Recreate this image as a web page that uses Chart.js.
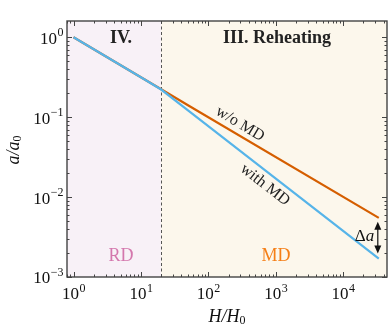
<!DOCTYPE html>
<html>
<head>
<meta charset="utf-8">
<script src="https://cdn.jsdelivr.net/npm/chart.js@4.4.0/dist/chart.umd.min.js"></script>
<style>
  html, body { margin: 0; padding: 0; background: #fff; }
  #wrap { width: 389px; height: 332px; }
</style>
</head>
<body>
<div id="wrap"><canvas id="scaleChart"></canvas></div>
<script>
// values
const hValues = [1, 10, 20, 50, 34000];
const withMD = [1, 0.316, 0.222, 0.122, 0.0017];
const withoutMD = [1, 0.316, 0.224, 0.141, 0.0055];
const xDecades = [0, 1, 2, 3, 4];
const yDecades = [0, -1, -2, -3];
const hReheat = 20;

const serif = '"Liberation Serif", "DejaVu Serif", serif';
const axisColor = '#444';

function pow10Label(ctx, exp, x, y, align) {
  // "10" with a raised exponent
  ctx.font = '17px ' + serif;
  const base = '10';
  const sup = String(exp).replace('-', '\u2212');
  const bw = ctx.measureText(base).width;
  ctx.font = '12px ' + serif;
  const sw = ctx.measureText(sup).width;
  let left = align === 'center' ? x - (bw + sw) / 2 : x - (bw + sw);
  ctx.textAlign = 'left';
  ctx.textBaseline = 'middle';
  ctx.font = '17px ' + serif;
  ctx.fillText(base, left, y);
  ctx.font = '12px ' + serif;
  ctx.fillText(sup, left + bw + 0.5, y - 6);
}

// italic symbol followed by a small upright subscript, centred at (x, y)
function subLabel(ctx, main, sub, x, y) {
  ctx.font = 'italic 18px ' + serif;
  const mw = ctx.measureText(main).width;
  ctx.font = '12px ' + serif;
  const sw = ctx.measureText(sub).width;
  const left = x - (mw + sw) / 2;
  ctx.textAlign = 'left';
  ctx.textBaseline = 'middle';
  ctx.font = 'italic 18px ' + serif;
  ctx.fillText(main, left, y);
  ctx.font = '12px ' + serif;
  ctx.fillText(sub, left + mw, y + 4);
}

const framePlugin = {
  id: 'frame',
  beforeDatasetsDraw(chart) {
    const { ctx, chartArea: a, scales } = chart;
    const xs = scales.x.getPixelForValue(hReheat);
    ctx.save();
    ctx.fillStyle = '#f8f1f7';
    ctx.fillRect(a.left, a.top, xs - a.left, a.bottom - a.top);
    ctx.fillStyle = '#fcf7ec';
    ctx.fillRect(xs, a.top, a.right - xs, a.bottom - a.top);
    ctx.strokeStyle = '#555';
    ctx.lineWidth = 1;
    ctx.setLineDash([3, 2.5]);
    ctx.beginPath();
    ctx.moveTo(Math.round(xs) + 0.5, a.top);
    ctx.lineTo(Math.round(xs) + 0.5, a.bottom);
    ctx.stroke();
    ctx.restore();
  },
  afterDraw(chart) {
    const { ctx, chartArea: a, scales } = chart;
    const sx = scales.x, sy = scales.y;
    ctx.save();
    // ticks, pointing inward, on all four sides
    ctx.strokeStyle = axisColor;
    ctx.lineWidth = 1;
    ctx.beginPath();
    for (let e = -1; e <= 5; e++) {
      for (let m = 1; m <= 9; m++) {
        const v = m * Math.pow(10, e);
        if (v < sx.min || v > sx.max) continue;
        const px = Math.round(sx.getPixelForValue(v)) + 0.5;
        const len = m === 1 ? 5 : 2.5;
        ctx.moveTo(px, a.bottom); ctx.lineTo(px, a.bottom - len);
        ctx.moveTo(px, a.top); ctx.lineTo(px, a.top + len);
      }
    }
    for (let e = -4; e <= 1; e++) {
      for (let m = 1; m <= 9; m++) {
        const v = m * Math.pow(10, e);
        if (v < sy.min || v > sy.max) continue;
        const py = Math.round(sy.getPixelForValue(v)) + 0.5;
        const len = m === 1 ? 5 : 2.5;
        ctx.moveTo(a.left, py); ctx.lineTo(a.left + len, py);
        ctx.moveTo(a.right, py); ctx.lineTo(a.right - len, py);
      }
    }
    ctx.stroke();
    // frame
    ctx.lineWidth = 1.4;
    ctx.strokeRect(a.left, a.top, a.right - a.left, a.bottom - a.top);

    // tick labels
    ctx.fillStyle = '#111';
    xDecades.forEach(e => {
      pow10Label(ctx, e, sx.getPixelForValue(Math.pow(10, e)), a.bottom + 18, 'center');
    });
    yDecades.forEach(e => {
      pow10Label(ctx, e, a.left - 4, sy.getPixelForValue(Math.pow(10, e)) + 2, 'right');
    });

    // axis titles
    subLabel(ctx, 'H/H', '0', 227, 317);
    ctx.save();
    ctx.translate(14, 150);
    ctx.rotate(-Math.PI / 2);
    subLabel(ctx, 'a/a', '0', 0, 0);
    ctx.restore();

    // region labels
    ctx.textAlign = 'center';
    ctx.textBaseline = 'middle';
    ctx.font = 'bold 18px ' + serif;
    ctx.fillStyle = '#222';
    ctx.fillText('IV.', 121, 38);
    ctx.fillText('III. Reheating', 277, 38);
    ctx.font = '18px ' + serif;
    ctx.fillStyle = '#d477ad';
    ctx.fillText('RD', 121, 256);
    ctx.fillStyle = '#f57f17';
    ctx.fillText('MD', 276, 256);

    // curve labels
    ctx.fillStyle = '#222';
    ctx.font = '16px ' + serif;
    ctx.save();
    ctx.translate(240, 124);
    ctx.rotate(31 * Math.PI / 180);
    ctx.fillText('w/o MD', 0, 0);
    ctx.restore();
    ctx.save();
    ctx.translate(265, 185);
    ctx.rotate(38 * Math.PI / 180);
    ctx.fillText('with MD', 0, 0);
    ctx.restore();

    // delta a arrow between the two curve ends
    const last = hValues.length - 1;
    const ax = sx.getPixelForValue(hValues[last]) - 1;
    const yTop = sy.getPixelForValue(withoutMD[last]) + 4;
    const yBot = sy.getPixelForValue(withMD[last]) - 5;
    ctx.strokeStyle = '#111';
    ctx.fillStyle = '#111';
    ctx.lineWidth = 1.2;
    ctx.beginPath();
    ctx.moveTo(ax, yTop + 5); ctx.lineTo(ax, yBot - 5);
    ctx.stroke();
    ctx.beginPath();
    ctx.moveTo(ax, yTop); ctx.lineTo(ax - 3.5, yTop + 8); ctx.lineTo(ax + 3.5, yTop + 8); ctx.closePath();
    ctx.moveTo(ax, yBot); ctx.lineTo(ax - 3.5, yBot - 8); ctx.lineTo(ax + 3.5, yBot - 8); ctx.closePath();
    ctx.fill();
    ctx.font = '17px ' + serif;
    ctx.textAlign = 'right';
    ctx.fillText('\u0394', ax - 12, (yTop + yBot) / 2 - 1);
    ctx.font = 'italic 17px ' + serif;
    ctx.textAlign = 'left';
    ctx.fillText('a', ax - 12, (yTop + yBot) / 2 - 1);
    ctx.restore();
  }
};

const chart = new Chart(document.getElementById('scaleChart').getContext('2d'), {
  type: 'line',
  data: {
    labels: hValues,
    datasets: [{
      label: 'with MD',
      data: hValues.map((h, i) => ({ x: h, y: withMD[i] })),
      borderColor: '#56b4e9',
      borderWidth: 2.2,
      pointRadius: 0,
      order: 0
    }, {
      label: 'w/o MD',
      data: hValues.map((h, i) => ({ x: h, y: withoutMD[i] })),
      borderColor: '#d55e00',
      borderWidth: 2.2,
      pointRadius: 0,
      order: 1
    }]
  },
  options: {
    responsive: true,
    maintainAspectRatio: false,
    animation: false,
    layout: { padding: { left: 67, right: 2, top: 21, bottom: 55 } },
    plugins: { legend: { display: false }, tooltip: { enabled: false } },
    scales: {
      x: { type: 'logarithmic', min: 0.8, max: 45000, display: false },
      y: { type: 'logarithmic', min: 0.001, max: 1.6, display: false }
    }
  },
  plugins: [framePlugin]
});
</script>
</body>
</html>
